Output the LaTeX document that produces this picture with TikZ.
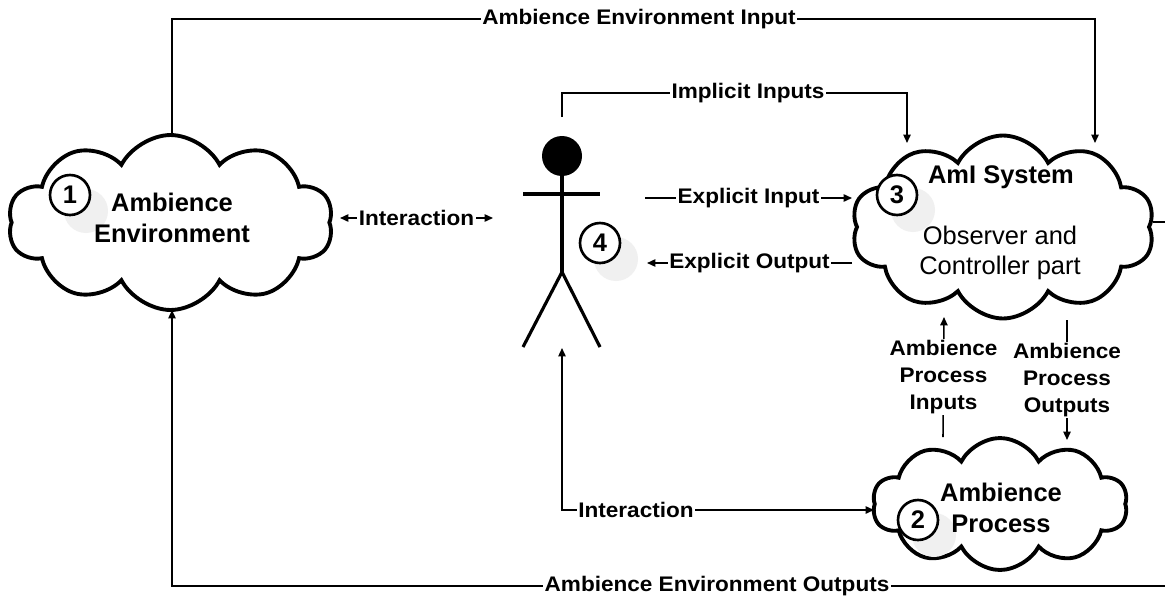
\documentclass[tikz,border=0pt]{standalone}
\usepackage{fontspec}
\setmainfont{Liberation Sans}
\newfontfamily\labfont[FakeStretch=1.07]{Liberation Sans}
\usetikzlibrary{shapes.symbols,arrows.meta}
\begin{document}
\begin{tikzpicture}[x=0.02cm,y=-0.02cm,
  cloudbox/.style={cloud, cloud puffs=10, cloud puff arc=125, cloud ignores aspect, draw, line width=2.2pt, fill=white, inner sep=0pt},
  conn/.style={line width=0.9pt},
  arr/.style={conn, -{Triangle[length=4.8pt,width=4.2pt]}},
  darr/.style={conn, {Triangle[length=4.8pt,width=4.2pt]}-{Triangle[length=4.8pt,width=4.2pt]}},
  lab/.style={fill=white, inner sep=1pt, font=\labfont\bfseries\fontsize{12}{15.3}\selectfont, align=center},
  title/.style={font=\bfseries\fontsize{14.5}{17.6}\selectfont, align=center, inner sep=0pt},
  plain/.style={font=\fontsize{14.5}{17}\selectfont, align=center, inner sep=0pt},
  numc/.style={circle, draw, line width=1.5pt, fill=white, minimum size=0.8cm, inner sep=0pt, font=\bfseries\fontsize{14.5}{17}\selectfont},
  shadowc/.style={circle, fill=black!6, minimum size=0.88cm, inner sep=0pt},
  figline/.style={line width=1.8pt}
]
\clip (0,0) rectangle (1165,602);
\fill[white] (0,0) rectangle (1165,602);

% clouds
\node[cloudbox, minimum width=6.5cm, minimum height=3.5cm] (c1) at (170.5,222.5) {};
\node[cloudbox, minimum width=6.06cm, minimum height=3.66cm] (c3) at (1003,227) {};
\node[cloudbox, minimum width=5.1cm, minimum height=2.64cm] (c2) at (1000,504) {};

% shadows and number circles
\node[shadowc] (s1) at (86,211) {};
\node[shadowc] (s3) at (913,210) {};
\node[shadowc] (s2) at (934,535) {};
\node[shadowc] (s4) at (616,259) {};
\node[numc] (n1) at (70,195) {1};
\node[numc] (n3) at (897,195) {3};
\node[numc] (n2) at (918,520) {2};
\node[numc] (n4) at (600,243) {4};

% cloud texts
\node[title] (t1) at (172,217.5) {Ambience\\Environment};
\node[title] (t3) at (1001,177) {AmI System};
\node[plain] (t3b) at (1000,253) {Observer and\\Controller part};
\node[title] (t2) at (1001,508) {Ambience\\Process};

% stick figure
\node[inner sep=0pt, minimum width=1.54cm, minimum height=4.24cm] (p) at (562,241) {};
\fill (562,156) circle (0.4cm);
\draw[figline] (562,176) -- (562,272);
\draw[figline] (523,194) -- (600,194);
\draw[figline] (523,347) -- (562,272) -- (600,347);

% connector end points
\coordinate (e1top) at (172,135);
\coordinate (e1bot) at (172,310);
\coordinate (c3a) at (907,143);
\coordinate (c3b) at (1095,143);
\coordinate (c3win) at (852,198);
\coordinate (c3wout) at (852,263);
\coordinate (c3e) at (1153,222);
\coordinate (c3sin) at (944,317);
\coordinate (c3sout) at (1067,320);
\coordinate (c2nin) at (943,437);
\coordinate (c2nout) at (1067,440);
\coordinate (c2w) at (874,510);
\coordinate (ptop) at (562,117);
\coordinate (pup) at (562,348);
\coordinate (xin) at (645,198);
\coordinate (xout) at (647,263);
\coordinate (ileft) at (340,218);
\coordinate (iright) at (493,218);
\coordinate (topmid) at (639,19);
\coordinate (implmid) at (748,93);
\coordinate (intmid) at (636,510);
\coordinate (botmid) at (717,586);
\coordinate (rc) at (1185,222);

% connectors
\draw[arr] (e1top) |- (topmid) node[lab] {Ambience Environment Input} -| (c3b);
\draw[arr] (ptop) |- (implmid) node[lab] {Implicit Inputs} -| (c3a);
\draw[arr] (xin) -- node[lab] {Explicit Input} (c3win);
\draw[arr] (c3wout) -- node[lab] {Explicit Output} (xout);
\draw[darr] (ileft) -- node[lab] {Interaction} (iright);
\draw[darr] (pup) |- (intmid) node[lab] {Interaction} -- (c2w);
\draw[arr] (c2nin) -- node[lab] {Ambience\\Process\\Inputs} (c3sin);
\draw[arr] (c3sout) -- node[lab] {Ambience\\Process\\Outputs} (c2nout);
\draw[arr] (c3e) -- (rc) |- (botmid) node[lab] {Ambience Environment Outputs} -| (e1bot);
\end{tikzpicture}
\end{document}
